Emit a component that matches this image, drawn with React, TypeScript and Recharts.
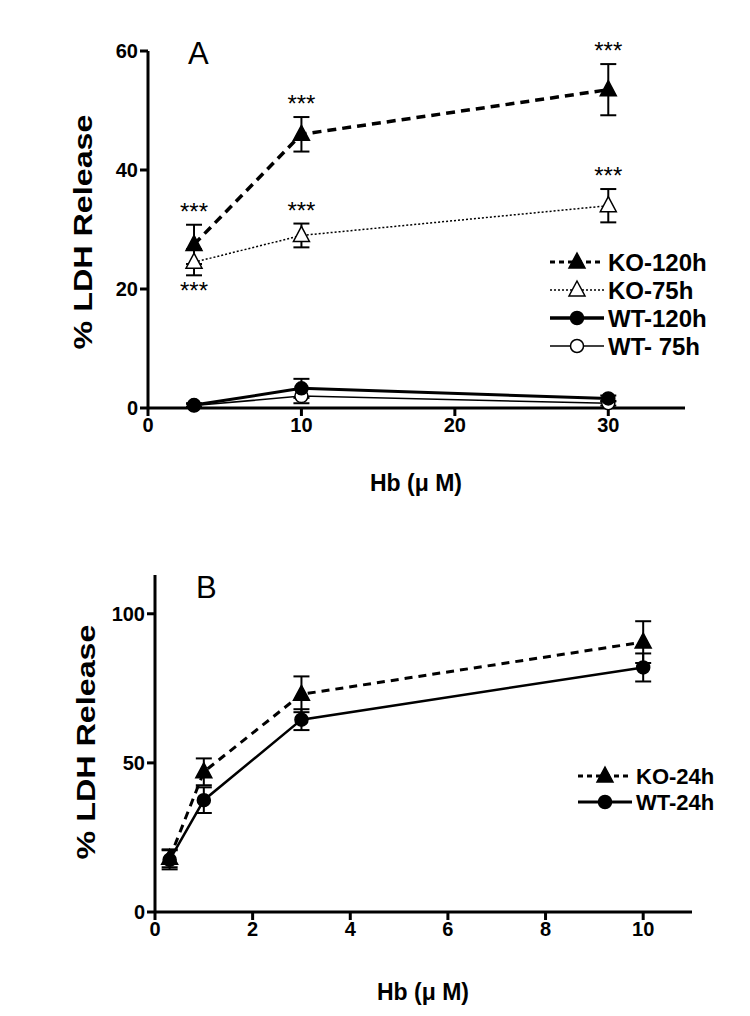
import React from 'react';
import {
  ComposedChart,
  Line,
  Scatter,
  XAxis,
  YAxis,
  ErrorBar,
  Label,
} from 'recharts';

// Panel A: Hb dose (uM) vs % LDH release
const hbA = [3, 10, 30];
const ko120 = [27.5, 46, 53.5];
const ko120Err = [3.3, 2.9, 4.3];
const ko75 = [24.5, 29, 34];
const ko75Err = [2.2, 2, 2.8];
const wt120 = [0.5, 3.3, 1.6];
const wt120Err = [0.3, 1.6, 0.5];
const wt75 = [0.4, 2.0, 0.8];
const wt75Err = [0.3, 1.2, 0.4];
const ticksAx = [0, 10, 20, 30];
const ticksAy = [0, 20, 40, 60];

// Panel B
const hbB = [0.3, 1, 3, 10];
const ko24 = [18, 47, 73, 90.5];
const ko24Err = [3, 4.5, 6, 7];
const wt24 = [17.5, 37.5, 64.5, 82];
const wt24Err = [3.2, 4.3, 3.5, 4.7];
const ticksBx = [0, 2, 4, 6, 8, 10];
const ticksBy = [0, 50, 100];

// significance marks (series, point index, above/below)
const starsA: { s: 'ko120' | 'ko75'; i: number; side: 'up' | 'down' }[] = [
  { s: 'ko120', i: 0, side: 'up' },
  { s: 'ko75', i: 0, side: 'down' },
  { s: 'ko120', i: 1, side: 'up' },
  { s: 'ko75', i: 1, side: 'up' },
  { s: 'ko120', i: 2, side: 'up' },
  { s: 'ko75', i: 2, side: 'up' },
];

const FONT = '"Liberation Sans", Arial, sans-serif';

const toRows = (xs: number[], ys: number[], errs: number[]) =>
  xs.map((x, i) => ({ x, y: ys[i], err: errs[i] }));

const starRows = starsA.map(({ s, i, side }) => {
  const ys = s === 'ko120' ? ko120 : ko75;
  const es = s === 'ko120' ? ko120Err : ko75Err;
  return { x: hbA[i], y: side === 'up' ? ys[i] + es[i] : ys[i] - es[i], side };
});

const Triangle = ({ cx, cy, filled }: any) => {
  if (cx == null || cy == null) return null;
  return (
    <path
      d={`M${cx},${cy - 9} L${cx + 8},${cy + 6} L${cx - 8},${cy + 6} Z`}
      fill={filled ? '#000' : '#fff'}
      stroke="#000"
      strokeWidth={1.5}
    />
  );
};

const Circle = ({ cx, cy, filled }: any) => {
  if (cx == null || cy == null) return null;
  return <circle cx={cx} cy={cy} r={6.5} fill={filled ? '#000' : '#fff'} stroke="#000" strokeWidth={1.5} />;
};

const Stars = (props: any) => {
  const { cx, cy, payload } = props;
  const down = payload.side === 'down';
  return (
    <text x={cx} y={down ? cy + 24 : cy - 5} textAnchor="middle" fontSize={24} fontFamily={FONT} fill="#000">
      ***
    </text>
  );
};

const tickStyle = { fontSize: 20, fontWeight: 'bold', fontFamily: FONT, fill: '#000' };
const axisLine = { stroke: '#000', strokeWidth: 3 };
const tickLine = { stroke: '#000', strokeWidth: 3 };

const YTitle = ({ cx, cy }: { cx: number; cy: number }) => (
  <text
    x={cx}
    y={cy}
    transform={`rotate(-90 ${cx} ${cy})`}
    textAnchor="middle"
    dominantBaseline="central"
    fontSize={25}
    fontWeight="bold"
    fontFamily={FONT}
    fill="#000"
    textLength={235}
    lengthAdjust="spacingAndGlyphs"
  >
    % LDH Release
  </text>
);

const XTitle = ({ cx, cy }: { cx: number; cy: number }) => (
  <text x={cx} y={cy} textAnchor="middle" dominantBaseline="central" fontSize={23} fontWeight="bold" fontFamily={FONT} fill="#000">
    Hb (μ M)
  </text>
);

type LegendItem = { name: string; dash?: string; width: number; marker: 'tri' | 'circ'; filled: boolean };

const legendA: LegendItem[] = [
  { name: 'KO-120h', dash: '5 4', width: 3, marker: 'tri', filled: true },
  { name: 'KO-75h', dash: '2 2', width: 1.5, marker: 'tri', filled: false },
  { name: 'WT-120h', width: 3.5, marker: 'circ', filled: true },
  { name: 'WT- 75h', width: 1.5, marker: 'circ', filled: false },
];

const legendB: LegendItem[] = [
  { name: 'KO-24h', dash: '5 4', width: 3, marker: 'tri', filled: true },
  { name: 'WT-24h', width: 3, marker: 'circ', filled: true },
];

const LegendBox = ({ items, left, top, gap, fontSize }: { items: LegendItem[]; left: number; top: number; gap: number; fontSize: number }) => (
  <svg
    width={210}
    height={gap * items.length + 12}
    style={{ position: 'absolute', left, top }}
  >
    {items.map((it, k) => {
      const y = 13 + k * gap;
      return (
        <g key={it.name}>
          <line x1={4} x2={58} y1={y} y2={y} stroke="#000" strokeWidth={it.width} strokeDasharray={it.dash} />
          {it.marker === 'tri' ? (
            <Triangle cx={31} cy={y} filled={it.filled} />
          ) : (
            <Circle cx={31} cy={y} filled={it.filled} />
          )}
          <text x={62} y={y} dominantBaseline="central" fontSize={fontSize} fontWeight="bold" fontFamily={FONT} fill="#000">
            {it.name}
          </text>
        </g>
      );
    })}
  </svg>
);

const App: React.FC = () => (
  <div style={{ position: 'absolute', left: 0, top: 0, width: 750, height: 1016, background: '#fff' }}>
    {/* Panel A */}
    <div style={{ position: 'absolute', left: 0, top: 0 }}>
      <ComposedChart width={750} height={520} margin={{ top: 51, right: 65, left: 88, bottom: 62 }}>
        <XAxis
          type="number"
          dataKey="x"
          domain={[0, 35]}
          ticks={ticksAx}
          axisLine={axisLine}
          tickLine={tickLine}
          tickSize={8}
          tick={tickStyle}
          height={50}
          allowDataOverflow
        >
          <Label content={() => <XTitle cx={416} cy={483} />} />
        </XAxis>
        <YAxis
          type="number"
          domain={[0, 60]}
          ticks={ticksAy}
          axisLine={axisLine}
          tickLine={tickLine}
          tickSize={8}
          tick={tickStyle}
          width={60}
        >
          <Label content={() => <YTitle cx={83} cy={232} />} />
        </YAxis>
        <Line
          data={toRows(hbA, wt75, wt75Err)}
          dataKey="y"
          stroke="#000"
          strokeWidth={1.5}
          dot={<Circle filled={false} />}
          isAnimationActive={false}
        >
          <ErrorBar dataKey="err" width={8} strokeWidth={2} stroke="#000" direction="y" />
        </Line>
        <Line
          data={toRows(hbA, wt120, wt120Err)}
          dataKey="y"
          stroke="#000"
          strokeWidth={3}
          dot={<Circle filled />}
          isAnimationActive={false}
        >
          <ErrorBar dataKey="err" width={8} strokeWidth={2} stroke="#000" direction="y" />
        </Line>
        <Line
          data={toRows(hbA, ko75, ko75Err)}
          dataKey="y"
          stroke="#000"
          strokeWidth={1.5}
          strokeDasharray="2 2"
          dot={<Triangle filled={false} />}
          isAnimationActive={false}
        >
          <ErrorBar dataKey="err" width={8} strokeWidth={2} stroke="#000" direction="y" />
        </Line>
        <Line
          data={toRows(hbA, ko120, ko120Err)}
          dataKey="y"
          stroke="#000"
          strokeWidth={3.5}
          strokeDasharray="9 6"
          dot={<Triangle filled />}
          isAnimationActive={false}
        >
          <ErrorBar dataKey="err" width={8} strokeWidth={2} stroke="#000" direction="y" />
        </Line>
        <Scatter data={starRows} dataKey="y" shape={<Stars />} isAnimationActive={false} />
      </ComposedChart>
      <LegendBox items={legendA} left={546} top={249} gap={28} fontSize={24} />
      <div style={{ position: 'absolute', left: 188, top: 36, fontSize: 31, fontFamily: FONT }}>A</div>
    </div>

    {/* Panel B */}
    <div style={{ position: 'absolute', left: 0, top: 520 }}>
      <ComposedChart width={750} height={496} margin={{ top: 55, right: 58, left: 95, bottom: 54 }}>
        <XAxis
          type="number"
          dataKey="x"
          domain={[0, 11]}
          ticks={ticksBx}
          axisLine={axisLine}
          tickLine={tickLine}
          tickSize={8}
          tick={tickStyle}
          height={50}
          allowDataOverflow
        >
          <Label content={() => <XTitle cx={423} cy={472} />} />
        </XAxis>
        <YAxis
          type="number"
          domain={[0, 113]}
          ticks={ticksBy}
          axisLine={axisLine}
          tickLine={tickLine}
          tickSize={8}
          tick={tickStyle}
          width={60}
          allowDataOverflow
        >
          <Label content={() => <YTitle cx={86} cy={222} />} />
        </YAxis>
        <Line
          data={toRows(hbB, wt24, wt24Err)}
          dataKey="y"
          stroke="#000"
          strokeWidth={2.5}
          dot={<Circle filled />}
          isAnimationActive={false}
        >
          <ErrorBar dataKey="err" width={8} strokeWidth={2} stroke="#000" direction="y" />
        </Line>
        <Line
          data={toRows(hbB, ko24, ko24Err)}
          dataKey="y"
          stroke="#000"
          strokeWidth={3}
          strokeDasharray="8 6"
          dot={<Triangle filled />}
          isAnimationActive={false}
        >
          <ErrorBar dataKey="err" width={8} strokeWidth={2} stroke="#000" direction="y" />
        </Line>
      </ComposedChart>
      <LegendBox items={legendB} left={574} top={243} gap={26} fontSize={22} />
      <div style={{ position: 'absolute', left: 196, top: 50, fontSize: 31, fontFamily: FONT }}>B</div>
    </div>
  </div>
);

export default App;
